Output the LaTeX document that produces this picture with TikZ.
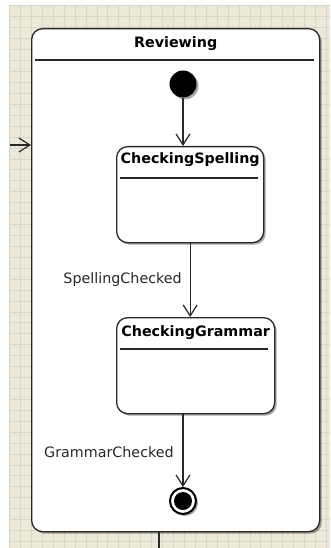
\documentclass[tikz,border=0pt]{standalone}
\usepackage{fontspec}
\setmainfont{DejaVu Sans}
\usetikzlibrary{arrows.meta,shadows}
\definecolor{gridbg}{RGB}{236,233,216}
\definecolor{gridln}{RGB}{216,213,205}
\definecolor{ink}{RGB}{40,40,40}
\tikzset{
  shad/.style={drop shadow={shadow xshift=2pt,shadow yshift=-2pt,fill=black,opacity=0.35}},
  statebox/.style={draw=ink,line width=1.3pt,fill=white,rounded corners=11pt,inner sep=0pt,anchor=north west,shad},
  ttl/.style={font=\bfseries\fontsize{14.3}{16}\selectfont,inner sep=0pt},
  lbl/.style={font=\fontsize{14.3}{16}\selectfont,inner sep=0pt,text=ink,anchor=east},
  sep/.style={draw=ink,line width=1.2pt},
  trans/.style={draw=ink,line width=1.2pt,-{Straight Barb[length=11pt,width=14pt,line width=1.2pt]}},
}
\begin{document}
\begin{tikzpicture}[x=1pt,y=-1pt]
\useasboundingbox (0,0) rectangle (330,548);
\fill[white] (0,0) rectangle (330,548);
\fill[gridbg] (10,5) rectangle (330,548);
\foreach \i in {0,...,29} {\draw[gridln,line width=1pt] (9.6+10.93*\i,5) -- (9.6+10.93*\i,548);}
\foreach \j in {0,...,49} {\draw[gridln,line width=1pt] (10,6+10.93*\j) -- (330,6+10.93*\j);}
% outer composite state
\node[statebox,minimum width=288pt,minimum height=503pt] (review) at (31,28) {};
\node[ttl] (revt) at ([yshift=-16pt]review.north) {Reviewing};
\draw[sep] ([xshift=4pt,yshift=-32pt]review.north west) -- ([xshift=-6pt,yshift=-32pt]review.north east);
% initial
\node[circle,fill=black,minimum size=27pt,inner sep=0pt,shad] (init) at (183,84) {};
% CheckingSpelling
\node[statebox,minimum width=147pt,minimum height=96pt] (spell) at (116,146) {};
\node[ttl] (spellt) at ([yshift=-14pt]spell.north) {CheckingSpelling};
\draw[sep] ([xshift=4pt,yshift=-32pt]spell.north west) -- ([xshift=-6pt,yshift=-32pt]spell.north east);
% CheckingGrammar
\node[statebox,minimum width=158pt,minimum height=96pt] (gram) at (116,317) {};
\node[ttl] (gramt) at ([yshift=-16pt]gram.north) {CheckingGrammar};
\draw[sep] ([xshift=4pt,yshift=-32pt]gram.north west) -- ([xshift=-7pt,yshift=-32pt]gram.north east);
% final
\node[circle,draw=black,line width=2pt,fill=white,minimum size=26pt,inner sep=0pt,shad] (final) at (183,501) {};
\node[circle,fill=black,minimum size=18pt,inner sep=0pt] (finalin) at (final.center) {};
% transitions
\draw[trans] (init) -- (init |- spell.north);
\draw[trans] (spell.south) -- (spell.south |- gram.north);
\draw[trans] (final |- gram.south) -- (final.north);
\node[lbl] (l1) at (182,280) {SpellingChecked};
\node[lbl] (l2) at (174,452) {GrammarChecked};
% external connectors
\coordinate (inS) at (10,145);
\draw[trans] (inS) -- (inS -| review.west);
\coordinate (outE) at (159,548);
\draw[draw=ink,line width=1.2pt] (outE |- review.south) -- (outE);
\end{tikzpicture}
\end{document}
